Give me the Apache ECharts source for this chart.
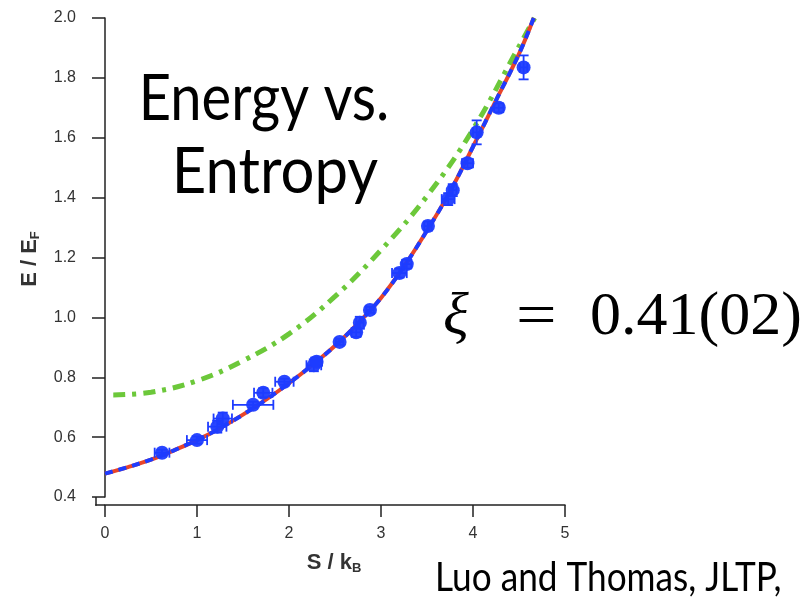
<!DOCTYPE html>
<html>
<head>
<meta charset="utf-8">
<script src="https://cdn.jsdelivr.net/npm/echarts@6/dist/echarts.min.js"></script>
<style>html,body{margin:0;padding:0;background:#fff;}#c{width:808px;height:603px;}</style>
</head>
<body>
<div id="c"></div>
<script>
// ---- data ----
const xTicks = [0, 1, 2, 3, 4, 5];
const yTicks = [0.4, 0.6, 0.8, 1.0, 1.2, 1.4, 1.6, 1.8, 2.0];

// measured points: S/kB, E/EF, x error, y error
const ptS    = [0.62, 1.00, 1.22, 1.28, 1.61, 1.72, 1.95, 2.27, 2.30, 2.55, 2.73, 2.77, 2.88, 3.20, 3.28, 3.51, 3.73, 3.78, 3.94, 4.04, 4.28, 4.55];
const ptE    = [0.548, 0.590, 0.635, 0.662, 0.708, 0.748, 0.785, 0.840, 0.852, 0.918, 0.950, 0.982, 1.025, 1.148, 1.178, 1.305, 1.395, 1.425, 1.515, 1.618, 1.700, 1.835];
const ptSErr = [0.08, 0.11, 0.10, 0.10, 0.22, 0.10, 0.10, 0.08, 0.06, 0.04, 0.05, 0.04, 0.04, 0.08, 0.05, 0.04, 0.07, 0.04, 0.06, 0.04, 0.05, 0.04];
const ptEErr = [0.010, 0.012, 0.020, 0.020, 0.010, 0.015, 0.010, 0.020, 0.015, 0.010, 0.015, 0.020, 0.010, 0.015, 0.015, 0.015, 0.020, 0.020, 0.015, 0.040, 0.015, 0.040];

// fit curve (xi = 0.41)
const fitS = [0, 0.25, 0.5, 0.75, 1.0, 1.25, 1.5, 1.75, 2.0, 2.25, 2.5, 2.75, 3.0, 3.25, 3.5, 3.75, 4.0, 4.25, 4.5, 4.66];
const fitE = [0.478, 0.500, 0.525, 0.556, 0.590, 0.630, 0.675, 0.725, 0.780, 0.840, 0.905, 0.980, 1.065, 1.170, 1.290, 1.420, 1.570, 1.725, 1.880, 2.000];

// comparison curve (green dash-dot)
const cmpS = [0.09, 0.5, 1.0, 1.5, 2.0, 2.5, 3.0, 3.5, 4.0, 4.5, 4.67];
const cmpE = [0.741, 0.750, 0.788, 0.855, 0.945, 1.070, 1.225, 1.405, 1.628, 1.905, 2.000];

// ---- build ----
const zip = (a, b) => a.map((v, i) => [v, b[i]]);
const errData = ptS.map((s, i) => [s, ptE[i], ptSErr[i], ptEErr[i]]);
const BLUE = '#1e3cff';
const TXT = '#333';
const AX = {color: '#222', width: 1.5};

const chart = echarts.init(document.getElementById('c'), null, {renderer: 'canvas'});
chart.setOption({
  animation: false,
  backgroundColor: '#fff',
  grid: {left: 105, top: 18, width: 460, height: 479, containLabel: false},
  xAxis: {
    type: 'value', min: xTicks[0], max: xTicks[xTicks.length - 1], interval: 1, offset: 8,
    axisLine: {show: true, lineStyle: AX},
    axisTick: {show: true, length: 12, lineStyle: AX},
    axisLabel: {margin: 21, fontSize: 16, color: TXT, fontFamily: 'Liberation Sans'},
    splitLine: {show: false}
  },
  yAxis: {
    type: 'value', min: yTicks[0], max: yTicks[yTicks.length - 1], interval: 0.2, offset: 9,
    axisLine: {show: true, lineStyle: AX},
    axisTick: {show: true, length: 13, lineStyle: AX},
    axisLabel: {margin: 20, fontSize: 16, color: TXT, fontFamily: 'Liberation Sans',
      formatter: v => v.toFixed(1)},
    splitLine: {show: false}
  },
  series: [
    {type: 'line', data: zip(cmpS, cmpE), smooth: 0.4, showSymbol: false, z: 2,
      lineStyle: {color: '#6cc83a', width: 5, type: [12, 7, 4, 7]}},
    {type: 'line', data: zip(fitS, fitE), smooth: 0.4, showSymbol: false, z: 3,
      lineStyle: {color: '#e8452a', width: 4}},
    {type: 'line', data: zip(fitS, fitE), smooth: 0.4, showSymbol: false, z: 4,
      lineStyle: {color: BLUE, width: 4, type: [8, 6]}},
    {type: 'custom', data: errData, z: 5,
      renderItem: function (params, api) {
        const x = api.value(0), y = api.value(1), dx = api.value(2), dy = api.value(3);
        const l = api.coord([x - dx, y]), r = api.coord([x + dx, y]);
        const t = api.coord([x, y + dy]), b = api.coord([x, y - dy]);
        const st = {stroke: BLUE, lineWidth: 1.8};
        const c = 5;
        return {type: 'group', children: [
          {type: 'line', shape: {x1: l[0], y1: l[1], x2: r[0], y2: r[1]}, style: st},
          {type: 'line', shape: {x1: l[0], y1: l[1] - c, x2: l[0], y2: l[1] + c}, style: st},
          {type: 'line', shape: {x1: r[0], y1: r[1] - c, x2: r[0], y2: r[1] + c}, style: st},
          {type: 'line', shape: {x1: t[0], y1: t[1], x2: b[0], y2: b[1]}, style: st},
          {type: 'line', shape: {x1: t[0] - c, y1: t[1], x2: t[0] + c, y2: t[1]}, style: st},
          {type: 'line', shape: {x1: b[0] - c, y1: b[1], x2: b[0] + c, y2: b[1]}, style: st}
        ]};
      }},
    {type: 'scatter', data: zip(ptS, ptE), symbol: 'circle', symbolSize: 14, z: 6,
      itemStyle: {color: BLUE, opacity: 0.95}}
  ],
  graphic: [
    // close the corner of the detached axes
    {type: 'line', shape: {x1: 96, y1: 497, x2: 96, y2: 505.75}, style: {stroke: '#222', lineWidth: 1.5}},
    {type: 'line', shape: {x1: 95.25, y1: 505, x2: 105, y2: 505}, style: {stroke: '#222', lineWidth: 1.5}},
    // y axis title
    {type: 'text', x: 30, y: 259, rotation: Math.PI / 2,
      style: {text: '{a|E / E}{s|F}', fontSize: 22, align: 'center', verticalAlign: 'middle',
        rich: {a: {fontSize: 22, fontWeight: 'bold', fontFamily: 'Liberation Sans', fill: TXT, color: TXT},
               s: {fontSize: 13, fontWeight: 'bold', fontFamily: 'Liberation Sans', fill: TXT, color: TXT, padding: [10, 0, 0, 0]}}}},
    // x axis title
    {type: 'text', x: 334, y: 563,
      style: {text: '{a|S / k}{s|B}', fontSize: 22, align: 'center', verticalAlign: 'middle',
        rich: {a: {fontSize: 22, fontWeight: 'bold', fontFamily: 'Liberation Sans', fill: TXT, color: TXT},
               s: {fontSize: 13, fontWeight: 'bold', fontFamily: 'Liberation Sans', fill: TXT, color: TXT, padding: [10, 0, 0, 0]}}}},
    // cropped top fragment
    {type: 'text', x: 427, y: -4, style: {text: 'F', fontSize: 10, fontWeight: 'bold', fontFamily: 'Liberation Sans', fill: '#444', align: 'center', verticalAlign: 'middle'}},
    // big annotation
    {type: 'text', x: 264, y: 100, scaleX: 0.89,
      style: {text: 'Energy vs.', fontSize: 63, fontFamily: 'Lato', fill: '#000', align: 'center', verticalAlign: 'middle'}},
    {type: 'text', x: 275, y: 173, scaleX: 0.95,
      style: {text: 'Entropy', fontSize: 63, fontFamily: 'Lato', fill: '#000', align: 'center', verticalAlign: 'middle'}},
    // xi equation
    {type: 'text', x: 443, y: 318,
      style: {text: 'ξ', fontSize: 60, fontStyle: 'italic', fontFamily: 'Liberation Serif', fill: '#000', align: 'left', verticalAlign: 'middle'}},
    {type: 'text', x: 516, y: 318, scaleX: 1.2,
      style: {text: '=', fontSize: 60, fontFamily: 'Liberation Serif', fill: '#000', align: 'left', verticalAlign: 'middle'}},
    {type: 'text', x: 590, y: 318,
      style: {text: '0.41(02)', fontSize: 62, fontFamily: 'Liberation Serif', fill: '#000', align: 'left', verticalAlign: 'middle'}},
    // citation
    {type: 'text', x: 435, y: 578, scaleX: 0.88,
      style: {text: 'Luo and Thomas, JLTP,', fontSize: 40, fontFamily: 'Lato', fill: '#000', align: 'left', verticalAlign: 'middle'}}
  ]
});
</script>
</body>
</html>
